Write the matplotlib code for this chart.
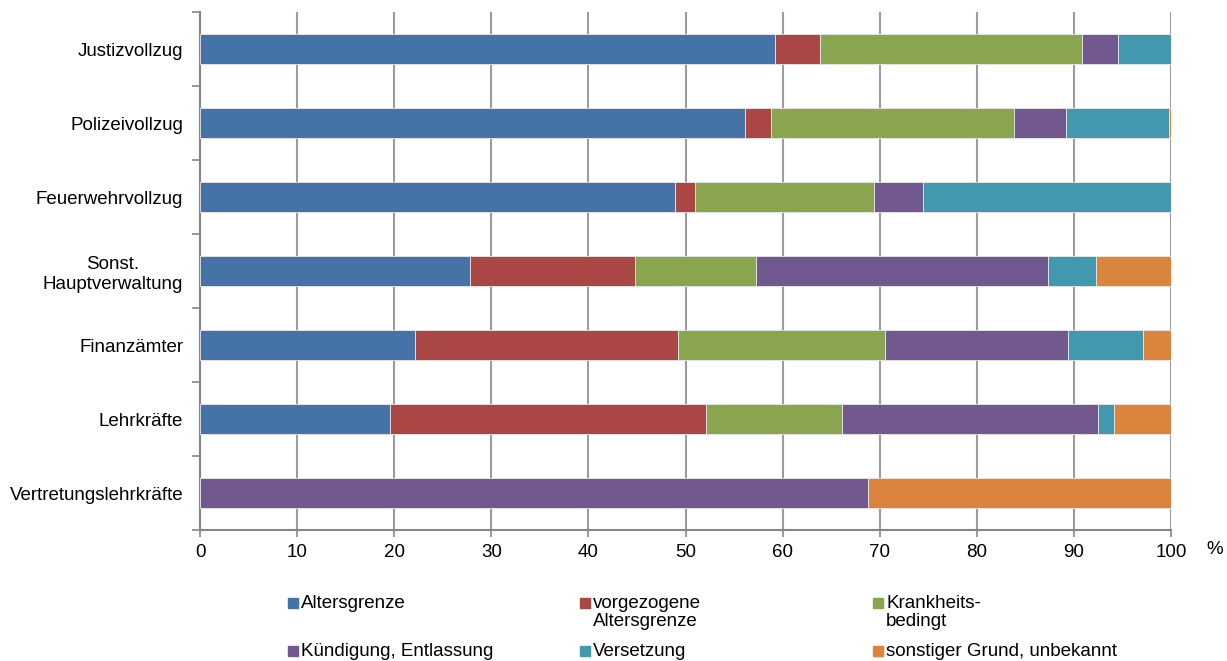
import numpy as np
import matplotlib.pyplot as plt
from matplotlib.patches import Rectangle

plt.rcParams['font.family'] = ['Liberation Sans', 'DejaVu Sans']

# categories (top to bottom) and shares in percent
categories = ['Justizvollzug', 'Polizeivollzug', 'Feuerwehrvollzug',
              'Sonst.\nHauptverwaltung', 'Finanzämter', 'Lehrkräfte',
              'Vertretungslehrkräfte']

altersgrenze = [59.2, 56.1, 48.9, 27.8, 22.1, 19.6, 0.0]
vorgezogen = [4.7, 2.7, 2.1, 17.0, 27.1, 32.5, 0.0]
krankheit = [26.9, 25.0, 18.4, 12.5, 21.3, 14.0, 0.0]
kuendigung = [3.7, 5.4, 5.1, 30.0, 18.9, 26.4, 68.8]
versetzung = [5.5, 10.6, 25.5, 5.0, 7.7, 1.6, 0.0]
sonstiger = [0.0, 0.2, 0.0, 7.7, 2.9, 5.9, 31.2]

series = [altersgrenze, vorgezogen, krankheit, kuendigung, versetzung, sonstiger]
labels = ['Altersgrenze', 'vorgezogene\nAltersgrenze', 'Krankheits-\nbedingt',
          'Kündigung, Entlassung', 'Versetzung', 'sonstiger Grund, unbekannt']
colors = ['#4572A7', '#AA4643', '#89A54E', '#71588F', '#4198AF', '#DB843D']

fig = plt.figure(figsize=(12.27, 6.61), dpi=100)
ax = fig.add_axes([200 / 1227, 131 / 661, 971 / 1227, 518 / 661])

y = np.arange(len(categories))
left = np.zeros(len(categories))
for vals, col in zip(series, colors):
    ax.barh(y, vals, left=left, height=0.4, color=col, edgecolor='#e8e8e8',
            linewidth=0.6, zorder=3)
    left += np.array(vals)

ax.set_ylim(len(categories) - 0.5, -0.5)
ax.set_xlim(0, 100)
ax.set_xticks(np.arange(0, 101, 10))
ax.set_yticks(y)
ax.set_yticklabels(categories, ha='right', multialignment='center')
ax.set_yticks(np.arange(-0.5, len(categories)), minor=True)
ax.tick_params(axis='y', which='major', length=0, pad=12, labelsize=13.5)
ax.tick_params(axis='y', which='minor', length=6, width=1.2, color='#868686')
ax.tick_params(axis='x', length=5, width=1.2, color='#868686', pad=5, labelsize=13.5)

ax.grid(axis='x', color='#9c9c9c', linewidth=1.5, zorder=0)
ax.set_axisbelow(True)
for s in ['top', 'right']:
    ax.spines[s].set_visible(False)
for s in ['left', 'bottom']:
    ax.spines[s].set_color('#868686')
    ax.spines[s].set_linewidth(1.5)

fig.text(1215 / 1227, 1 - 550 / 661, '%', ha='center', va='center', fontsize=13.5)

# legend, laid out row by row like the original
col_x = [288, 580, 873]
row_y = [603, 651]
for i, (lab, col) in enumerate(zip(labels, colors)):
    cx = col_x[i % 3]
    cy = row_y[i // 3]
    fig.patches.append(Rectangle((cx / 1227, 1 - (cy + 5) / 661), 10 / 1227, 10 / 661,
                                 transform=fig.transFigure, color=col))
    fig.text((cx + 13) / 1227, 1 - (cy - 8) / 661, lab, ha='left', va='top',
             fontsize=13.5, linespacing=1.1)

fig.savefig('out.png', dpi=100)
